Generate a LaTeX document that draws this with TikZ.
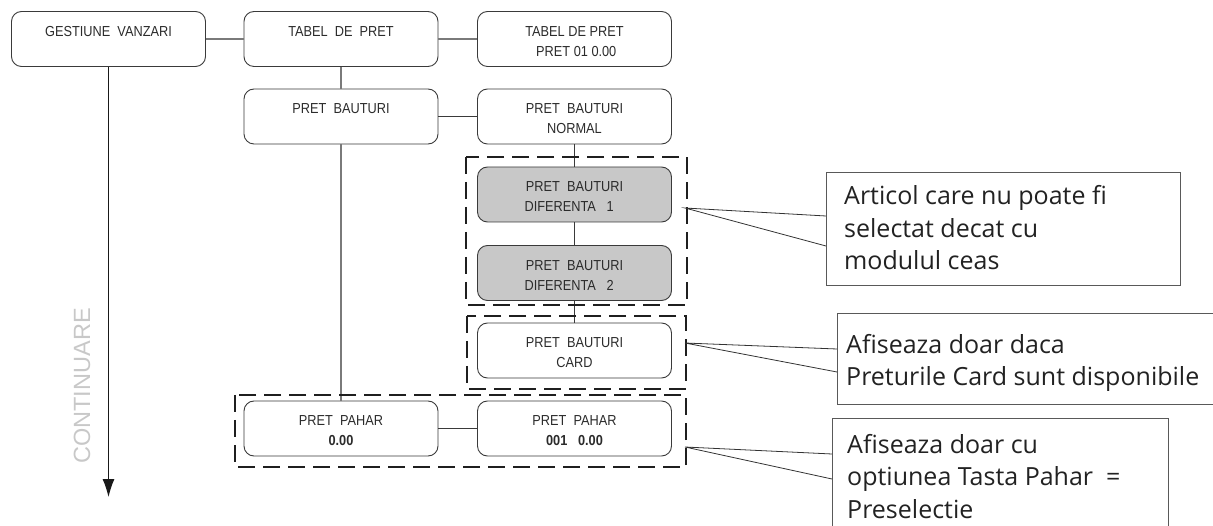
\documentclass[tikz,border=0pt]{standalone}
\usepackage{fontspec}
\setmainfont{Liberation Sans}
\newfontfamily\boxfont[FakeStretch=0.88]{Liberation Sans}
\newfontfamily\callfont{Open Sans}
\usetikzlibrary{arrows.meta}
\definecolor{boxline}{HTML}{3A3A3A}
\definecolor{boxtext}{HTML}{2B2B2B}
\definecolor{grayfill}{HTML}{C8C8C8}
\definecolor{conngray}{HTML}{7A7A7A}
\definecolor{calltext}{HTML}{222222}
\definecolor{contgray}{HTML}{C8C8C8}
\begin{document}
\begin{tikzpicture}[x=1pt,y=-1pt,
  box/.style={draw=boxline, rounded corners=10pt, line width=0.9pt,
    minimum width=194pt, minimum height=55pt, inner sep=0pt, align=center,
    font=\boxfont\fontsize{14.5}{20}\selectfont, text=boxtext},
  gbox/.style={box, fill=grayfill},
  conn/.style={draw=conngray, line width=1.3pt},
  thinconn/.style={draw=boxline, line width=0.8pt},
  dashbox/.style={draw=black!88, line width=2pt, dash pattern=on 17pt off 8pt},
  callframe/.style={draw=black!65, line width=1pt},
  leader/.style={draw=black!80, line width=0.8pt},
  calltxt/.style={anchor=base west, inner sep=0pt, align=left, text=calltext,
    font=\callfont\fontsize{25}{32.5}\selectfont},
  arrowline/.style={draw=black!90, line width=1pt, -{Latex[length=18pt,width=12pt]}}
]
\useasboundingbox (0,0) rectangle (1213,526);

% boxes
\node[box] (A) at (108.5,39) {\rule{0pt}{15pt}GESTIUNE\ \ VANZARI\\\mbox{}};
\node[box] (B) at (341,39) {\rule{0pt}{15pt}TABEL\ \ DE\ \ PRET\\\mbox{}};
\node[box] (C) at (574.5,39) {\rule{0pt}{15pt}TABEL DE PRET\\\ PRET 01\ 0.00};
\node[box] (D) at (341,116.5) {\rule{0pt}{15pt}PRET\ \ BAUTURI\\\mbox{}};
\node[box] (E) at (574.5,116.5) {\rule{0pt}{15pt}PRET\ \ BAUTURI\\NORMAL};
\node[gbox] (F) at (574.5,194.5) {\rule{0pt}{15pt}PRET\ \ BAUTURI\\DIFERENTA\ \ \ 1\ \ \ \ };
\node[gbox] (G) at (574.5,273) {\rule{0pt}{15pt}PRET\ \ BAUTURI\\DIFERENTA\ \ \ 2\ \ \ \ };
\node[box] (H) at (574.5,350.5) {\rule{0pt}{15pt}PRET\ \ BAUTURI\\CARD};
\node[box] (I) at (341,428.5) {\rule{0pt}{15pt}PRET\ \ PAHAR\\\textbf{0.00}};
\node[box] (J) at (574.5,428.5) {\rule{0pt}{15pt}PRET\ \ PAHAR\\\textbf{001\ \ \ 0.00}};

% connectors
\draw[conn] (A) -- (B);
\draw[conn] (B) -- (C);
\draw[conn] (B) -- (D);
\draw[thinconn] (D) -- (E);
\draw[thinconn] (E) -- (F);
\draw[thinconn] (F) -- (G);
\draw[thinconn] (G) -- (H);
\draw[conn] (D) -- (I);
\draw[thinconn] (I) -- (J);

% continue arrow
\coordinate (arrowend) at (108.5,497);
\draw[arrowline] (A) -- (arrowend);
\node[rotate=90, text=contgray, font=\fontsize{23.5}{28}\selectfont, inner sep=0pt] (cont) at (82,386) {CONTINUARE};

% dashed groups
\draw[dashbox] (466,157) rectangle (687,305);
\draw[dashbox] (467,316) rectangle (686,389);
\draw[dashbox] (235,395) rectangle (686,467);

% callout 1
\coordinate (c1a) at (826,173);
\coordinate (c1b) at (1180,286);
\draw[callframe] (c1a) rectangle (c1b);
\node[calltxt] (T1) at (844,270) {Articol care nu poate fi\\selectat decat cu\\modulul ceas};
\coordinate (p1) at (685,208);
\coordinate (q1a) at (826,216);
\coordinate (q1b) at (826,246);
\draw[leader] (q1a) -- (p1) -- (q1b);

% callout 2
\coordinate (c2a) at (1213,314);
\coordinate (c2b) at (837,314);
\coordinate (c2c) at (837,405);
\coordinate (c2d) at (1213,405);
\draw[callframe] (c2a) -- (c2b) -- (c2c) -- (c2d);
\node[calltxt] (T2) at (846,386) {Afiseaza doar daca\\Preturile Card sunt disponibile};
\coordinate (p2) at (685,343);
\coordinate (q2a) at (837,349);
\coordinate (q2b) at (837,372);
\draw[leader] (q2a) -- (p2) -- (q2b);

% callout 3
\coordinate (c3a) at (832,526);
\coordinate (c3b) at (832,419);
\coordinate (c3c) at (1168,419);
\coordinate (c3d) at (1168,526);
\draw[callframe] (c3a) -- (c3b) -- (c3c) -- (c3d);
\node[calltxt] (T3) at (847,518) {Afiseaza doar cu\\optiunea Tasta Pahar\ \ =\\Preselectie};
\coordinate (p3) at (685,447);
\coordinate (q3a) at (832,454);
\coordinate (q3b) at (832,479);
\draw[leader] (q3a) -- (p3) -- (q3b);
\end{tikzpicture}
\end{document}
